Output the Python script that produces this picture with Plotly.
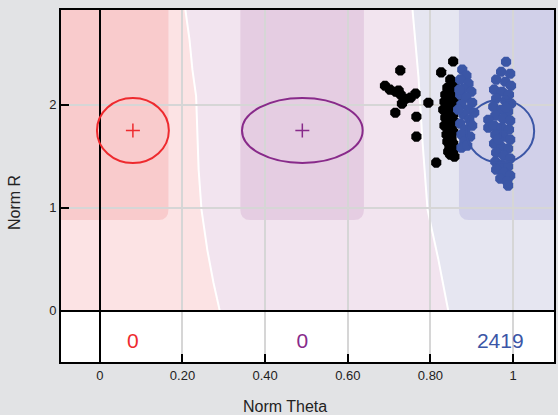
import plotly.graph_objects as go

# ---------------- data ----------------
x_tick_vals = [0, 0.2, 0.4, 0.6, 0.8, 1.0]
x_tick_text = ["0", "0.20", "0.40", "0.60", "0.80", "1"]
y_tick_vals = [0, 1, 2]
y_tick_text = ["0", "1", "2"]

class_colors = ["#ee2a2e", "#882a8a", "#3b56a6"]
class_counts = ["0", "0", "2419"]
center_theta = [0.080, 0.490, 0.969]
center_r = [1.75, 1.75, 1.743]
radius_theta = [0.087, 0.146, 0.082]
radius_r = [0.316, 0.316, 0.306]

# decision boundaries (theta, R)
left_bound_theta = [0.206, 0.217, 0.224, 0.233, 0.239, 0.246, 0.260, 0.275, 0.290]
left_bound_r = [2.95, 2.63, 2.34, 2.08, 1.37, 0.98, 0.59, 0.27, 0.0]
right_bound_theta = [0.756, 0.771, 0.781, 0.793, 0.819, 0.843]
right_bound_r = [2.95, 2.27, 1.63, 0.98, 0.50, 0.0]

# core (dark) bands: theta from / to, bottom R
core_theta0 = [-0.3, 0.340, 0.869]
core_theta1 = [0.166, 0.639, 1.4]
core_bottom = [0.88, 0.88, 0.88]
light_colors = ["#fce3e4", "#f2e4ef", "#e6e6f1"]
core_colors = ["#f9cbcc", "#e5cde2", "#d1d0e9"]

# unclassified points (black)
black_theta = [0.727, 0.855, 0.826, 0.690, 0.702, 0.716, 0.728, 0.740, 0.731, 0.752, 0.764, 0.723,
               0.795, 0.715, 0.766, 0.766, 0.814,
               0.848, 0.858, 0.841, 0.855, 0.836, 0.851, 0.863, 0.834, 0.846, 0.858, 0.831, 0.843,
               0.855, 0.836, 0.848, 0.860, 0.834, 0.846, 0.855, 0.839, 0.851, 0.841, 0.855, 0.846,
               0.855, 0.848, 0.858, 0.843, 0.839, 0.853]
black_r = [2.333, 2.420, 2.314, 2.184, 2.146, 2.126, 2.097, 2.058, 2.010, 2.068, 2.107, 2.136,
           2.019, 1.922, 1.883, 1.689, 1.437,
           2.243, 2.204, 2.165, 2.136, 2.097, 2.078, 2.058, 2.029, 2.000, 1.981, 1.951, 1.922,
           1.903, 1.874, 1.845, 1.825, 1.796, 1.767, 1.738, 1.709, 1.680, 1.641, 1.621, 1.583,
           1.553, 1.515, 1.495, 1.544, 1.786, 1.951]

# classified points (blue)
blue_theta = [0.877, 0.887, 0.872, 0.892, 0.880, 0.899, 0.872, 0.887, 0.901, 0.875, 0.892, 0.906,
              0.880, 0.894, 0.872, 0.901, 0.884, 0.875, 0.896, 0.882, 0.875, 0.889, 0.867, 0.870,
              0.983, 0.971, 0.993, 0.959, 0.981, 0.995, 0.954, 0.973, 0.990, 0.959, 0.981, 0.995,
              0.952, 0.971, 0.988, 0.957, 0.976, 0.993, 0.940, 0.940, 0.954, 0.973, 0.990, 0.957,
              0.976, 0.993, 0.954, 0.971, 0.988, 0.959, 0.978, 0.993, 0.957, 0.973, 0.988, 0.959,
              0.978, 0.993, 0.969, 0.986, 0.988, 0.964, 0.983]
blue_r = [2.340, 2.282, 2.243, 2.204, 2.155, 2.126, 2.097, 2.068, 2.019, 2.000, 1.951, 1.922,
          1.903, 1.854, 1.816, 1.796, 1.757, 1.709, 1.689, 1.641, 1.583, 1.602, 1.951, 2.146,
          2.417, 2.320, 2.301, 2.243, 2.223, 2.184, 2.146, 2.126, 2.097, 2.058, 2.039, 2.010,
          1.981, 1.951, 1.932, 1.893, 1.864, 1.845, 1.854, 1.777, 1.796, 1.777, 1.757, 1.709,
          1.689, 1.660, 1.621, 1.592, 1.573, 1.534, 1.505, 1.476, 1.447, 1.417, 1.398, 1.369,
          1.340, 1.311, 1.282, 1.252, 1.214, 1.660, 1.971]

X_RANGE = [-0.094, 1.099]
Y_RANGE = [-0.5, 2.92]
FONT = "Liberation Sans, Arial, sans-serif"

# ---------------- shapes ----------------
shapes = []


def poly_path(xs, ys, close=True):
    s = "M %g,%g" % (xs[0], ys[0])
    for x, y in zip(xs[1:], ys[1:]):
        s += " L %g,%g" % (x, y)
    return s + (" Z" if close else "")


# light regions
red_x = [-0.3] + left_bound_theta + [-0.3]
red_y = [3.0] + left_bound_r + [-0.1]
pur_x = left_bound_theta + right_bound_theta[::-1]
pur_y = left_bound_r + right_bound_r[::-1]
blu_x = right_bound_theta + [1.4, 1.4]
blu_y = right_bound_r + [-0.1, 3.0]
for xs, ys, c in [(red_x, red_y, light_colors[0]), (pur_x, pur_y, light_colors[1]),
                  (blu_x, blu_y, light_colors[2])]:
    shapes.append(dict(type="path", path=poly_path(xs, ys), xref="x", yref="y",
                       fillcolor=c, line=dict(width=0), layer="below"))

# core bands with rounded bottom corners
rx, ry = 0.024, 0.1
for x0, x1, yb, c in zip(core_theta0, core_theta1, core_bottom, core_colors):
    p = ("M %g,3.0 L %g,3.0 L %g,%g Q %g,%g %g,%g L %g,%g Q %g,%g %g,%g Z" %
         (x0, x1, x1, yb + ry, x1, yb, x1 - rx, yb, x0 + rx, yb, x0, yb, x0, yb + ry))
    shapes.append(dict(type="path", path=p, xref="x", yref="y", fillcolor=c,
                       line=dict(width=0), layer="below"))

# white boundary lines
for xs, ys in [(left_bound_theta, left_bound_r), (right_bound_theta, right_bound_r)]:
    shapes.append(dict(type="path", path=poly_path(xs, ys, close=False), xref="x", yref="y",
                       line=dict(color="white", width=2), layer="below"))

# white count band
shapes.append(dict(type="rect", xref="x", yref="y", x0=-0.3, x1=1.4, y0=-0.6, y1=0,
                   fillcolor="white", line=dict(width=0), layer="below"))

# ellipses
for ct, cr, wt, wr, col in zip(center_theta, center_r, radius_theta, radius_r, class_colors):
    shapes.append(dict(type="circle", xref="x", yref="y", x0=ct - wt, x1=ct + wt,
                       y0=cr - wr, y1=cr + wr, line=dict(color=col, width=2),
                       fillcolor="rgba(0,0,0,0)", layer="above"))

# ---------------- traces ----------------
fig = go.Figure()
fig.add_trace(go.Scatter(x=black_theta, y=black_r, mode="markers",
                         marker=dict(symbol="octagon", size=11, color="#000000", line=dict(width=0)),
                         showlegend=False, hoverinfo="skip"))
fig.add_trace(go.Scatter(x=blue_theta, y=blue_r, mode="markers",
                         marker=dict(symbol="octagon", size=11, color="#3b56a6", line=dict(width=0)),
                         showlegend=False, hoverinfo="skip"))
fig.add_trace(go.Scatter(x=center_theta, y=center_r, mode="markers",
                         marker=dict(symbol="cross-thin", size=10,
                                     line=dict(color=class_colors, width=1.5)),
                         showlegend=False, hoverinfo="skip"))
fig.add_trace(go.Scatter(x=center_theta, y=[-0.31] * 3, mode="text", text=class_counts,
                         textfont=dict(family=FONT, size=21, color=class_colors),
                         showlegend=False, hoverinfo="skip"))

axis_common = dict(showline=True, linecolor="black", linewidth=2, mirror=True,
                   ticks="inside", ticklen=8, tickwidth=2, tickcolor="black",
                   showgrid=True, gridcolor="#d6d6d6", gridwidth=2,
                   zeroline=True, zerolinecolor="black", zerolinewidth=2,
                   tickfont=dict(family=FONT, size=13, color="#222222"))

fig.update_layout(
    width=558, height=415,
    margin=dict(l=61, r=2, t=10, b=53),
    paper_bgcolor="#e2e3e5", plot_bgcolor="white",
    shapes=shapes,
    xaxis=dict(range=X_RANGE, tickvals=x_tick_vals, ticktext=x_tick_text, **axis_common),
    yaxis=dict(range=Y_RANGE, tickvals=y_tick_vals, ticktext=y_tick_text, **axis_common),
    annotations=[
        dict(text="Norm Theta", xref="paper", yref="paper", x=0.4545, y=-0.125,
             xanchor="center", yanchor="middle", showarrow=False,
             font=dict(family=FONT, size=16, color="#222222")),
        dict(text="Norm R", xref="paper", yref="paper", x=-0.093, y=0.452, textangle=-90,
             xanchor="center", yanchor="middle", showarrow=False,
             font=dict(family=FONT, size=16, color="#222222")),
    ],
)

fig.write_html("out.html")
